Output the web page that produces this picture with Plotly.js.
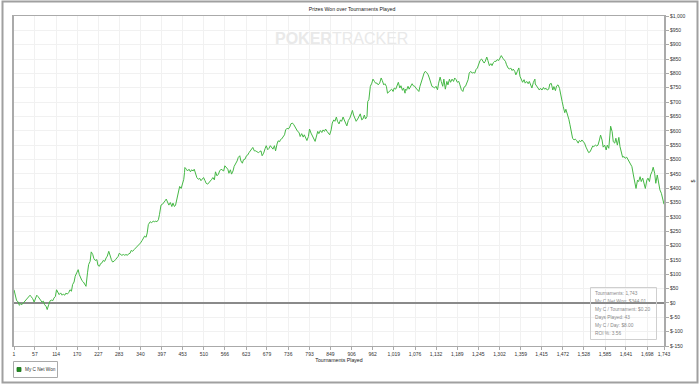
<!DOCTYPE html>
<html>
<head>
<meta charset="utf-8">
<script src="https://cdn.plot.ly/plotly-3.0.1.min.js"></script>
<style>html,body{margin:0;padding:0;background:#fff;}#chart{width:700px;height:384px;}</style>
</head>
<body>
<div id="chart"></div>
<script>
const seriesName = "My C Net Won";
const chartTitle = "Prizes Won over Tournaments Played";
const xTitle = "Tournaments Played";
const yTitle = "$";

const tournaments = [
1,4,8,13,15,19,22,26,30,35,39,44,47,51,55,58,62,65,69,72,76,80,83,87,90,94,98,101,105,108,112,115,119,122,126,130,133,137,140,144,148,151,155,158,162,165,169,173,176,180,183,187,190,194,198,201,205,208,212,215,219,223,226,230,233,237,240,244,248,251,255,258,262,265,269,273,276,280,283,287,290,294,298,301,305,308,312,315,319,323,326,330,333,337,340,344,348,351,355,358,361,364,
366,370,374,377,381,384,388,391,395,399,402,406,409,413,416,420,424,427,431,434,438,441,445,449,452,456,458,459,463,466,470,474,477,481,484,488,491,495,499,502,506,509,513,516,520,524,527,531,534,538,541,545,549,552,556,559,563,566,570,574,577,581,584,588,591,595,599,602,606,609,613,616,620,624,627,631,634,638,641,645,649,652,656,659,663,666,670,674,677,681,684,688,692,695,699,702,706,709,713,
715,718,722,726,729,733,736,740,743,747,751,754,758,761,765,768,772,776,779,783,786,790,793,797,801,804,808,811,815,818,822,826,829,833,836,840,843,847,851,854,858,861,865,868,872,876,879,883,886,890,893,897,901,904,908,911,915,918,922,926,929,933,936,940,943,947,949,952,956,960,963,967,970,974,977,981,985,988,992,995,999,1002,1006,1010,1013,1017,1020,1024,1027,1031,1035,1038,1042,1045,1049,
1050,1053,1057,1060,1064,1068,1071,1075,1078,1082,1086,1089,1093,1096,1100,1103,1107,1111,1114,1118,1121,1125,1128,1132,1136,1139,1143,1146,1150,1153,1157,1161,1164,1168,1171,1175,1179,1182,1186,1189,1193,1196,1200,1204,1207,1211,1214,1218,1221,1225,1229,1232,1236,1239,1243,1246,1250,1254,1257,1261,1264,1268,1271,1275,1279,1282,1286,1289,1293,1296,1300,1303,1307,1311,1314,1318,1321,1325,1329,1332,1336,1339,1343,1346,1350,1354,1357,1361,1364,1368,1371,1375,1379,1382,1386,1389,1393,1397,
1398,1402,1405,1409,1412,1416,1420,1423,1427,1430,1434,1437,1441,1445,1448,1452,1455,1459,1463,1466,1470,1473,1477,1480,1484,1488,1491,1495,1498,1502,1505,1509,1513,1516,1520,1523,1527,1530,1534,1538,1541,1545,1548,1552,1555,1559,1563,1566,1570,1573,1577,1580,1584,1588,1591,1595,1598,1600,1604,1607,1611,1614,1618,1622,1625,1629,1632,1636,1639,1643,1647,1650,1654,1657,1661,1664,1668,1672,1675,1679,1682,1686,1689,1693,1697,1700,1704,1707,1711,1714,1718,1721,1725,1729,1732,1736,1739,1743
];

const netWon = [
46,29,8,3,-8,-3,-6,0,6,12,17,27,22,15,3,15,27,23,15,8,3,6,-6,-12,-23,-6,8,10,8,17,23,46,38,29,35,27,31,27,34,31,37,46,41,64,73,93,105,116,99,87,78,73,66,58,105,134,145,178,169,155,148,151,131,128,137,140,148,145,157,163,180,163,151,143,145,151,157,162,173,169,166,169,166,169,166,171,173,183,180,186,190,197,198,206,209,217,227,233,229,244,273,279,
283,280,285,283,285,283,290,309,341,344,348,356,362,348,341,350,336,348,336,341,362,379,406,399,410,431,455,472,466,460,466,457,464,460,466,452,437,431,434,426,431,437,426,417,414,420,422,431,437,429,457,443,449,460,466,464,460,478,472,466,452,464,449,460,476,484,495,507,513,495,487,499,501,513,515,524,530,538,542,530,530,527,524,527,530,513,522,538,548,534,538,548,542,536,548,530,554,565,562,
569,571,580,586,603,609,606,613,624,627,621,613,603,598,594,580,590,578,586,571,566,580,606,592,580,571,563,578,598,590,601,594,603,598,606,598,592,586,603,627,638,633,648,633,624,638,633,648,638,624,617,636,644,655,671,655,638,633,641,650,659,638,641,655,641,650,702,708,755,766,780,772,766,766,760,766,784,775,760,764,755,731,737,743,745,737,749,745,755,769,749,757,741,749,731,
745,741,755,745,755,764,757,755,749,743,737,755,769,784,801,807,803,795,784,766,755,752,749,755,743,766,787,772,755,780,745,772,760,780,769,780,772,784,778,769,772,760,743,737,752,755,766,778,801,807,801,803,801,813,819,830,845,850,845,836,842,857,845,827,834,827,838,842,842,848,845,853,862,853,848,842,830,819,815,819,810,815,807,795,807,819,790,776,769,778,766,772,764,772,755,749,769,780,
763,756,748,742,748,742,751,745,748,742,745,763,765,742,754,740,756,760,748,721,702,684,663,675,659,640,621,597,574,568,571,566,557,566,562,568,562,557,543,533,524,527,539,547,545,550,547,550,568,585,568,543,550,533,550,539,585,616,597,562,557,574,550,577,545,527,508,510,504,508,498,489,484,475,446,423,399,428,423,440,423,435,417,399,428,435,423,446,458,473,452,417,446,411,394,382,359,344.01
];

const xTickVals = [1,57,114,170,227,283,340,397,453,510,566,623,679,736,793,849,906,962,1019,1076,1132,1189,1245,1302,1359,1415,1472,1528,1585,1641,1698,1743];
const xTickLabels = ["1","57","114","170","227","283","340","397","453","510","566","623","679","736","793","849","906","962","1,019","1,076","1,132","1,189","1,245","1,302","1,359","1,415","1,472","1,528","1,585","1,641","1,698","1,743"];
const yTickVals = [-150,-100,-50,0,50,100,150,200,250,300,350,400,450,500,550,600,650,700,750,800,850,900,950,1000];
const yTickLabels = ["$-150","$-100","$-50","$0","$50","$100","$150","$200","$250","$300","$350","$400","$450","$500","$550","$600","$650","$700","$750","$800","$850","$900","$950","$1,000"];

const statsLines = ["Tournaments: 1,743","My C Net Won: $344.01","My C / Tournament: $0.20","Days Played: 43","My C / Day: $8.00","ROI %: 3.56"];

// plot area geometry helpers (pixels -> paper)
const L = 14, R = 36, T = 16, B = 38, W = 700, H = 384;
const pw = W - L - R, ph = H - T - B;
const px = x => (x - L) / pw;
const py = y => (H - B - y) / ph;

const FONT = "Liberation Sans, Arial, sans-serif";

const annotations = [
  {xref:'paper', yref:'paper', x:px(341), y:py(38), text:'<b>POKER</b>TRACKER', showarrow:false,
   font:{family:FONT, size:16, color:'#e9e9e9'}, xanchor:'center', yanchor:'middle'},
  {xref:'paper', yref:'paper', x:px(23), y:py(369.5), text:seriesName, showarrow:false,
   font:{family:FONT, size:4.7, color:'#333'}, xanchor:'left', yanchor:'middle'}
];
statsLines.forEach((s, i) => {
  annotations.push({xref:'paper', yref:'paper', x:px(592.5), y:py(293 + i * 8.1), text:s, showarrow:false,
    font:{family:FONT, size:4.8, color:'#8a8a8a'}, xanchor:'left', yanchor:'middle'});
});

const shapes = [
  {type:'rect', xref:'paper', yref:'paper', x0:px(2.5), x1:px(697.5), y0:py(382.5), y1:py(1.5),
   line:{color:'#a0a0a0', width:2}, fillcolor:'rgba(0,0,0,0)'},
  {type:'rect', xref:'paper', yref:'paper', x0:px(13.5), x1:px(57.5), y0:py(377.5), y1:py(361.5),
   line:{color:'#aaa', width:1}, fillcolor:'rgba(0,0,0,0)'},
  {type:'rect', xref:'paper', yref:'paper', x0:px(17), x1:px(21), y0:py(371.5), y1:py(367.5),
   line:{color:'#1d6d1d', width:0.8}, fillcolor:'#1f8f1f'},
  {type:'rect', xref:'paper', yref:'paper', x0:px(590.5), x1:px(656.5), y0:py(339.5), y1:py(287.5),
   line:{color:'#cfcfcf', width:1}, fillcolor:'rgba(0,0,0,0)'}
];

const trace = {
  type:'scatter', mode:'lines', name:seriesName,
  x:tournaments, y:netWon,
  line:{color:'#45b845', width:1},
  hoverinfo:'skip', showlegend:false
};

const layout = {
  width:W, height:H,
  margin:{l:L, r:R, t:T, b:B, pad:0},
  paper_bgcolor:'#fff', plot_bgcolor:'#fff',
  font:{family:FONT, size:5, color:'#333'},
  showlegend:false,
  title:{text:chartTitle, font:{family:FONT, size:5.2, color:'#222'}, xref:'container', yref:'container',
         x:352/700, y:1 - 9/384, xanchor:'center', yanchor:'middle'},
  xaxis:{
    range:[1,1743], tickmode:'array', tickvals:xTickVals, ticktext:xTickLabels,
    showgrid:true, gridcolor:'#f1f1f1', gridwidth:1,
    showline:true, linecolor:'#aaa', linewidth:1, mirror:true,
    ticks:'outside', ticklen:3, tickcolor:'#aaa', tickfont:{family:FONT, size:5, color:'#333'},
    zeroline:false, automargin:false,
    title:{text:xTitle, font:{family:FONT, size:5.2, color:'#222'}, standoff:1}
  },
  yaxis:{
    side:'right', range:[-150,1000], tickmode:'array', tickvals:yTickVals, ticktext:yTickLabels,
    showgrid:true, gridcolor:'#f1f1f1', gridwidth:1,
    showline:true, linecolor:'#aaa', linewidth:2, mirror:true,
    ticks:'outside', ticklen:3, tickcolor:'#aaa', tickfont:{family:FONT, size:5, color:'#333'},
    zeroline:true, zerolinecolor:'#8a8a8a', zerolinewidth:1.3, automargin:false,
    title:{text:yTitle, font:{family:FONT, size:5.2, color:'#222'}, standoff:7}
  },
  annotations:annotations,
  shapes:shapes
};

Plotly.newPlot('chart', [trace], layout, {displayModeBar:false, staticPlot:true});
</script>
</body>
</html>
